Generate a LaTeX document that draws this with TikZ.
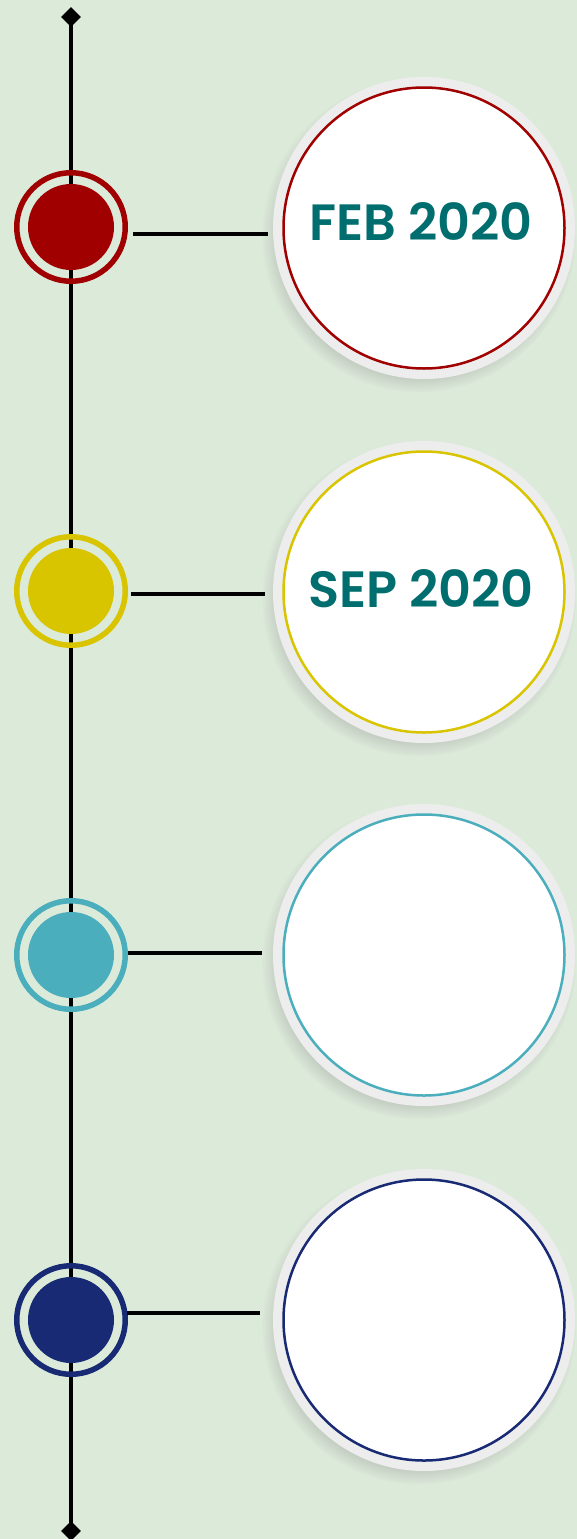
\documentclass[tikz,border=0pt]{standalone}
\usepackage{fontspec}
\newfontfamily\datefont{Poppins}[BoldFont={Poppins SemiBold}]
\usepackage{tikz}
\usetikzlibrary{shapes.geometric,shadows}
\definecolor{bg}{RGB}{220,234,218}
\definecolor{cred}{RGB}{160,0,0}
\definecolor{cyellow}{RGB}{217,196,0}
\definecolor{ccyan}{RGB}{74,174,189}
\definecolor{cnavy}{RGB}{23,42,115}
\definecolor{datetext}{RGB}{0,110,110}
\tikzset{
    ring/.style={circle, draw=#1, line width=5.5pt, minimum size=108.5pt, inner sep=0pt},
    dot/.style={circle, fill=#1, minimum size=86pt, inner sep=0pt},
    rim/.style={circle, fill=black!7, minimum size=302pt, inner sep=0pt,
        circular drop shadow={shadow xshift=-5pt, shadow yshift=-7pt, shadow scale=1.04, opacity=0.4}},
    card/.style={circle, draw=#1, fill=white, line width=2.5pt, minimum size=281pt, inner sep=0pt},
    date/.style={text=datetext, font=\datefont\bfseries\fontsize{51}{51}\selectfont, inner sep=0pt},
    tip/.style={diamond, fill=black, minimum size=20pt, inner sep=0pt},
    link/.style={line width=3.5pt},
}

\begin{document}
\begin{tikzpicture}[x=1pt, y=-1pt]
\fill[bg] (0,0) rectangle (577,1539);
\useasboundingbox (0,0) rectangle (577,1539);

% time axis
\node[tip] (top) at (71,17) {};
\node[tip] (bottom) at (71,1531) {};
\draw[line width=3.5pt] (top.center) -- (bottom.center);

% markers
\node[ring=cred] (ring1) at (71,227) {};
\node[dot=cred] (dot1) at (71,227) {};
\node[ring=cyellow] (ring2) at (71,591) {};
\node[dot=cyellow] (dot2) at (71,591) {};
\node[ring=ccyan] (ring3) at (71,955) {};
\node[dot=ccyan] (dot3) at (71,955) {};
\node[ring=cnavy] (ring4) at (71,1320) {};
\node[dot=cnavy] (dot4) at (71,1320) {};

% date cards
\node[rim] (rim1) at (424,228) {};
\node[card=cred] (card1) at (424,228) {};
\node[rim] (rim2) at (424,592) {};
\node[card=cyellow] (card2) at (424,592) {};
\node[rim] (rim3) at (424,955) {};
\node[card=ccyan] (card3) at (424,955) {};
\node[rim] (rim4) at (424,1320) {};
\node[card=cnavy] (card4) at (424,1320) {};

\node[date] (date1) at (421,221) {FEB 2020};
\node[date] (date2) at (421,589) {SEP 2020};

% connectors
\coordinate (a1) at (133,234); \coordinate (b1) at (268,234);
\coordinate (a2) at (131,594); \coordinate (b2) at (265,594);
\coordinate (a3) at (128,953); \coordinate (b3) at (262,953);
\coordinate (a4) at (127,1313); \coordinate (b4) at (260,1313);
\draw[link] (a1) -- (b1);
\draw[link] (a2) -- (b2);
\draw[link] (a3) -- (b3);
\draw[link] (a4) -- (b4);
\end{tikzpicture}
\end{document}
